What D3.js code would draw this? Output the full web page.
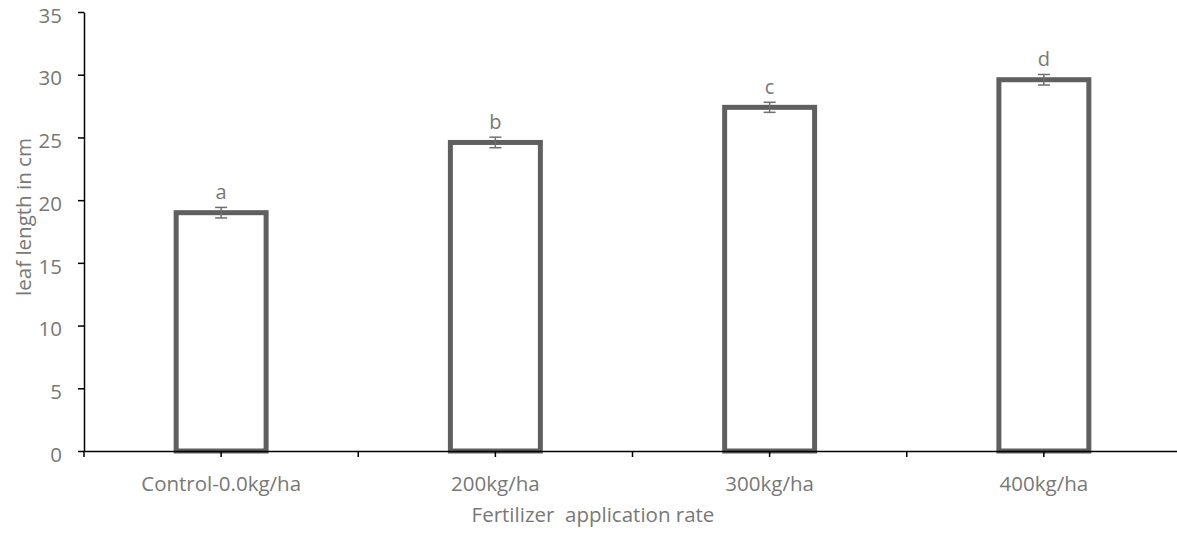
<!DOCTYPE html>
<html>
<head>
<meta charset="utf-8">
<title>Leaf length by fertilizer rate</title>
<script src="https://cdn.jsdelivr.net/npm/d3@7"></script>
<style>
  body { margin: 0; background: #fff; font-family: 'Open Sans', sans-serif; }
  svg { display: block; }
  text { fill: #787878; font-family: 'Open Sans', sans-serif; }
  .axis path, .axis line { stroke: #000; stroke-width: 1.5; }
  .axis text { font-size: 20.5px; fill: #787878; font-family: 'Open Sans', sans-serif; }
  .bar { fill: #fff; stroke: #5f5f5f; stroke-width: 5; }
  .err { stroke: #6f6f6f; stroke-width: 1.5; }
  .letter { font-size: 20px; }
  .label { font-size: 20.5px; }
</style>
</head>
<body>
<svg width="1177" height="535"></svg>
<script>
// data
const categories = ['Control-0.0kg/ha', '200kg/ha', '300kg/ha', '400kg/ha'];
const leafLength = [19.0, 24.6, 27.4, 29.6];
const stdErr = [0.42, 0.42, 0.4, 0.42];
const groupLetters = ['a', 'b', 'c', 'd'];
const yTicks = [0, 5, 10, 15, 20, 25, 30, 35];

const svg = d3.select('svg');
const mLeft = 84, mRight = 1181, mTop = 12, mBottom = 451;

const x = d3.scaleBand()
  .domain(categories)
  .range([mLeft, mRight])
  .paddingInner(0.672)
  .paddingOuter(0.336);

const y = d3.scaleLinear().domain([0, 35]).range([mBottom, mTop]);

const data = categories.map((c, i) => ({ cat: c, v: leafLength[i], se: stdErr[i], lt: groupLetters[i] }));

// bars
svg.append('g').selectAll('rect')
  .data(data)
  .enter().append('rect')
  .attr('class', 'bar')
  .attr('x', d => x(d.cat))
  .attr('y', d => y(d.v))
  .attr('width', x.bandwidth())
  .attr('height', d => y(0) - y(d.v));

// error bars
const eb = svg.append('g').selectAll('g')
  .data(data)
  .enter().append('g')
  .attr('class', 'err');
const cx = d => x(d.cat) + x.bandwidth() / 2;
eb.append('line')
  .attr('x1', cx).attr('x2', cx)
  .attr('y1', d => y(d.v + d.se)).attr('y2', d => y(d.v - d.se));
eb.append('line')
  .attr('x1', d => cx(d) - 6).attr('x2', d => cx(d) + 6)
  .attr('y1', d => y(d.v + d.se)).attr('y2', d => y(d.v + d.se));
eb.append('line')
  .attr('x1', d => cx(d) - 6).attr('x2', d => cx(d) + 6)
  .attr('y1', d => y(d.v - d.se)).attr('y2', d => y(d.v - d.se));

// significance letters
svg.append('g').selectAll('text')
  .data(data)
  .enter().append('text')
  .attr('class', 'letter')
  .attr('x', cx)
  .attr('y', d => y(d.v + d.se) - 8)
  .attr('text-anchor', 'middle')
  .text(d => d.lt);

// y axis (labels sit a touch below their ticks, like the original)
svg.append('g')
  .attr('class', 'axis')
  .attr('transform', `translate(${mLeft},0)`)
  .call(d3.axisLeft(y).tickValues(yTicks).tickSize(6).tickPadding(16).tickSizeOuter(0))
  .selectAll('text').attr('dy', '0.5em');

// x axis: ticks at category centres plus ticks on the category boundaries
const xAxis = svg.append('g')
  .attr('class', 'axis')
  .attr('transform', `translate(0,${mBottom})`)
  .call(d3.axisBottom(x).tickSize(6).tickPadding(19).tickSizeOuter(0));
const step = x.step();
xAxis.selectAll('.bound')
  .data(d3.range(categories.length + 1))
  .enter().append('line')
  .attr('class', 'bound')
  .attr('x1', i => mLeft + i * step).attr('x2', i => mLeft + i * step)
  .attr('y1', 0).attr('y2', 6);

// axis titles
svg.append('text')
  .attr('class', 'label')
  .attr('transform', 'translate(31,217) rotate(-90)')
  .attr('text-anchor', 'middle')
  .text('leaf length in cm');

svg.append('text')
  .attr('class', 'label')
  .attr('x', 593)
  .attr('y', 522)
  .attr('text-anchor', 'middle')
  .attr('xml:space', 'preserve')
  .style('white-space', 'pre')
  .text('Fertilizer  application rate');
</script>
</body>
</html>
